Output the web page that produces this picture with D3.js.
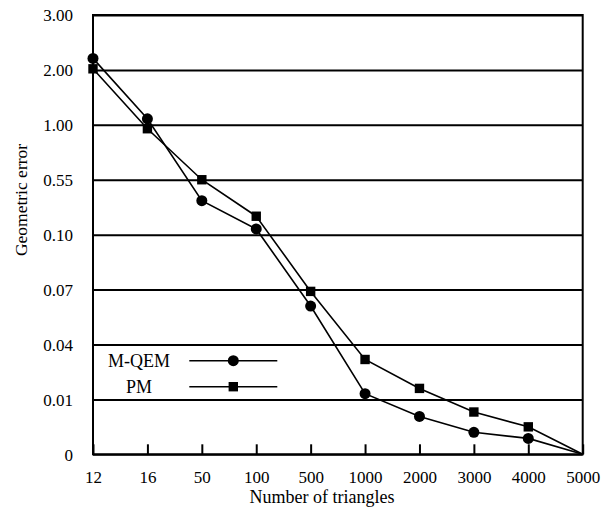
<!DOCTYPE html>
<html>
<head>
<meta charset="utf-8">
<script src="https://cdn.jsdelivr.net/npm/d3@7"></script>
<style>
	body { margin: 0; background: #fff; }
	svg { display: block; font-family: "Liberation Serif", "Times New Roman", serif; }
	.tick text { font-size: 17px; fill: #000; }
</style>
</head>
<body>
<div id="div_id_main"></div>
<script>

// ---------------- data ----------------

const vTriangles = ["12", "16", "50", "100", "500", "1000", "2000", "3000", "4000", "5000"];

const vErrorTicks = [0, 0.01, 0.04, 0.07, 0.10, 0.55, 1.00, 2.00, 3.00];
const vErrorTickLabels = ["0", "0.01", "0.04", "0.07", "0.10", "0.55", "1.00", "2.00", "3.00"];

const vSeriesNames = ["M-QEM", "PM"];

const vError_MQEM = [2.21, 1.11, 0.378, 0.147, 0.061, 0.0131, 0.0069, 0.0040, 0.0029, 0];
const vError_PM   = [2.02, 0.968, 0.55, 0.251, 0.069, 0.0318, 0.0160, 0.0077, 0.0050, 0];

// -------------------------------------------------------------

const WIDTH = 609, HEIGHT = 515;
const PLOT_L = 93, PLOT_R = 582.7, PLOT_T = 15, PLOT_B = 454.3;
const FONT = "'Liberation Serif', 'Times New Roman', serif";

function funcDraw_Main() {

	let svgMain = d3.select("#div_id_main")
					.append("svg")
						.attr("width", WIDTH)
						.attr("height", HEIGHT);

	let fScale_X = d3.scalePoint()
						.domain(vTriangles)
						.range([PLOT_L, PLOT_R]);

	// the value axis is not linear: every label gets the same step
	let fStep = (PLOT_B - PLOT_T) / (vErrorTicks.length - 1);
	let fScale_Y = d3.scaleLinear()
						.domain(vErrorTicks)
						.range(vErrorTicks.map((v, i) => PLOT_B - i * fStep));

	// ---- grid + y labels
	let gY = svgMain.append("g")
					.attr("transform", "translate(" + PLOT_L + ",0)")
					.call(d3.axisLeft(fScale_Y)
							.tickValues(vErrorTicks)
							.tickFormat((d, i) => vErrorTickLabels[i])
							.tickSizeInner(-(PLOT_R - PLOT_L))
							.tickSizeOuter(0)
							.tickPadding(20))
					.attr("font-family", FONT);

	gY.select(".domain").remove();
	gY.selectAll(".tick line").attr("stroke", "#000").attr("stroke-width", 2);
	gY.selectAll(".tick text").attr("dy", "0.34em");

	// ---- x ticks (pointing inwards) + labels
	let gX = svgMain.append("g")
					.attr("transform", "translate(0," + PLOT_B + ")")
					.call(d3.axisBottom(fScale_X)
							.tickSizeInner(-10)
							.tickSizeOuter(0)
							.tickPadding(17))
					.attr("font-family", FONT);

	gX.select(".domain").remove();
	gX.selectAll(".tick line").attr("stroke", "#000").attr("stroke-width", 2);

	// ---- frame
	svgMain.append("rect")
				.attr("x", PLOT_L)
				.attr("y", PLOT_T)
				.attr("width", PLOT_R - PLOT_L)
				.attr("height", PLOT_B - PLOT_T)
				.attr("fill", "none")
				.attr("stroke", "#000")
				.attr("stroke-width", 2);

	// ---- series
	let vSeries = [
		{ name: vSeriesNames[0], values: vError_MQEM, marker: "circle" },
		{ name: vSeriesNames[1], values: vError_PM, marker: "square" }
	];

	let lineGen = d3.line()
					.x((d, i) => fScale_X(vTriangles[i]))
					.y(d => fScale_Y(d));

	for (let s of vSeries) {

		svgMain.append("path")
					.datum(s.values)
					.attr("d", lineGen)
					.attr("fill", "none")
					.attr("stroke", "#000")
					.attr("stroke-width", 1.6);
	}

	for (let s of vSeries) {

		let vPoints = s.values.slice(0, s.values.length - 1);	// the last point (0 at 5000) has no marker

		funcDraw_Markers(svgMain, s.marker,
							vPoints.map((v, i) => [fScale_X(vTriangles[i]), fScale_Y(v)]));
	}

	// ---- legend
	let vLegendY = [360.7, 386.7];

	vSeries.forEach(function(s, i) {

		svgMain.append("text")
					.attr("x", 139)
					.attr("y", vLegendY[i] + 6)
					.attr("text-anchor", "middle")
					.attr("font-size", "18px")
					.text(s.name);

		svgMain.append("line")
					.attr("x1", 189.3)
					.attr("x2", 277.3)
					.attr("y1", vLegendY[i])
					.attr("y2", vLegendY[i])
					.attr("stroke", "#000")
					.attr("stroke-width", 1.6);

		funcDraw_Markers(svgMain, s.marker, [[233.3, vLegendY[i]]]);
	});

	// ---- axis titles
	svgMain.append("text")
				.attr("x", 322)
				.attr("y", 503)
				.attr("text-anchor", "middle")
				.attr("font-size", "18px")
				.text("Number of triangles");

	svgMain.append("text")
				.attr("transform", "translate(27,200) rotate(-90)")
				.attr("text-anchor", "middle")
				.attr("font-size", "17.5px")
				.text("Geometric error");
}

function funcDraw_Markers(svg_, marker, vPoints) {

	if (marker == "circle") {

		svg_.append("g").selectAll("circle")
			.data(vPoints)
			.enter()
				.append("circle")
					.attr("cx", d => d[0])
					.attr("cy", d => d[1])
					.attr("r", 5.5)
					.attr("fill", "#000");
	}
	else {

		svg_.append("g").selectAll("rect")
			.data(vPoints)
			.enter()
				.append("rect")
					.attr("x", d => d[0] - 4.7)
					.attr("y", d => d[1] - 4.7)
					.attr("width", 9.4)
					.attr("height", 9.4)
					.attr("fill", "#000");
	}
}

funcDraw_Main();

</script>
</body>
</html>
